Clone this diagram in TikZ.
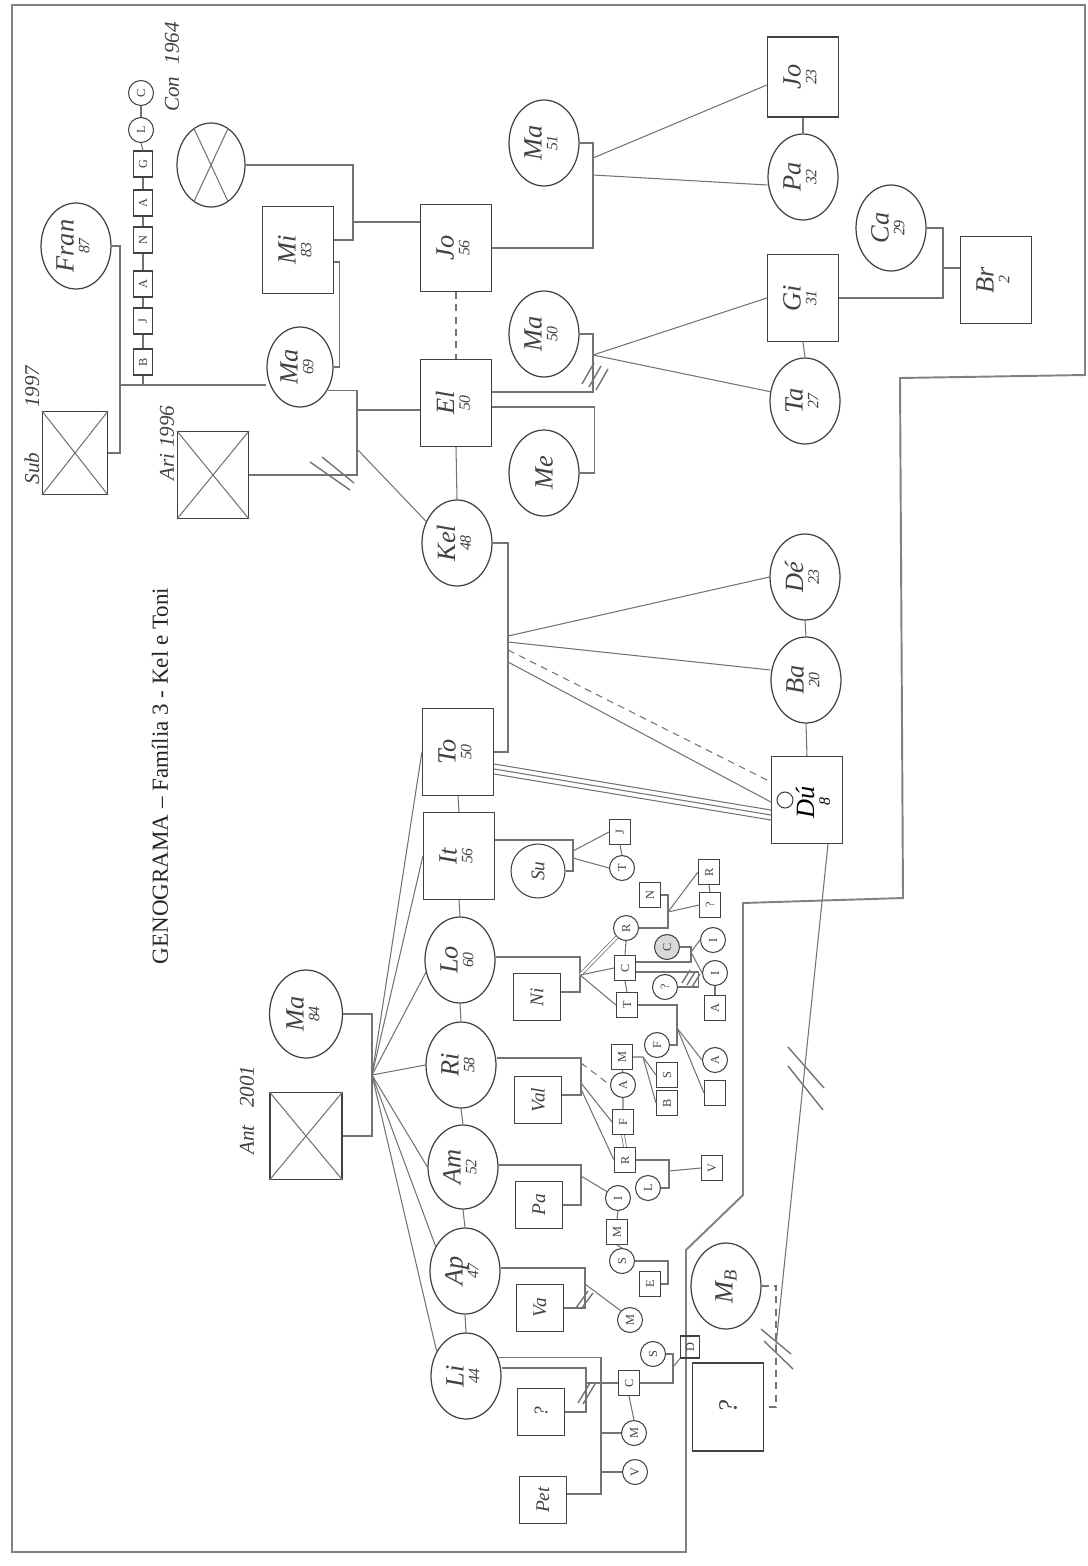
\documentclass[tikz,border=0pt]{standalone}
\usepackage{fontspec}
\setmainfont{Liberation Serif}
\usetikzlibrary{shapes.geometric,calc,positioning}
\definecolor{pencil}{RGB}{115,115,115}
\definecolor{ink}{RGB}{65,65,65}
\newcommand{\nmfont}{\itshape\fontsize{15}{15}\selectfont}
\newcommand{\agfont}{\itshape\fontsize{9}{9}\selectfont}
\newcommand{\mdfont}{\itshape\fontsize{11}{11}\selectfont}
\newcommand{\smfont}{\fontsize{7}{7}\selectfont}
\newcommand{\nm}[2]{\rotatebox{90}{\begin{tabular}{@{}c@{}}\nmfont #1\\[-3pt]\agfont #2\end{tabular}}}
\newcommand{\nmo}[1]{\rotatebox{90}{\nmfont #1}}
\newcommand{\nms}[1]{\rotatebox{90}{\mdfont #1}}
\newcommand{\sm}[1]{\rotatebox{90}{\smfont #1}}
\tikzset{
  ln/.style={draw=pencil,line width=0.6pt},
  dsh/.style={ln,dash pattern=on 4pt off 3pt},
  dbl/.style={draw=pencil,double,double distance=1.2pt,line width=0.45pt},
  frame/.style={draw=pencil!90,line width=1.1pt},
  slash/.style={draw=pencil,line width=0.8pt},
  fem/.style={ellipse,draw=ink,line width=0.7pt,minimum width=1.4cm,
    minimum height=1.72cm,inner sep=0pt,text=ink},
  mal/.style={rectangle,draw=ink,line width=0.7pt,minimum width=1.42cm,
    minimum height=1.74cm,inner sep=0pt,text=ink},
  mid/.style={mal,minimum width=0.94cm,minimum height=0.94cm},
  sfem/.style={circle,draw=ink,line width=0.6pt,minimum size=0.5cm,
    inner sep=0pt,text=ink},
  smal/.style={rectangle,draw=ink,line width=0.6pt,minimum width=0.42cm,
    minimum height=0.5cm,inner sep=0pt,text=ink},
  hand/.style={font=\itshape\fontsize{12}{12}\selectfont,text=ink,rotate=90},
  title/.style={font=\fontsize{13.1}{15}\selectfont,text=black!85,rotate=90},
}

\begin{document}
\begin{tikzpicture}[x=0.02cm,y=-0.02cm]
  \useasboundingbox (0,0) rectangle (1088,1566);
  \draw[frame] (12,5) -- (1085,5) -- (1085,375) -- (900,378) -- (903,898)
    -- (743,903) -- (743,1195) -- (686,1250) -- (686,1552) -- (12,1552) -- cycle;
  \node[title] (ttl) at (160,776) {GENOGRAMA – Família 3 - Kel e Toni};

  % grandparents, maternal side
  \node[fem] (fran) at (76,246) {\nm{Fran}{87}};
  \node[mal,minimum width=1.3cm,minimum height=1.66cm] (sub) at (75,453) {};
  \draw[ln] (sub.north west) -- (sub.south east) (sub.north east) -- (sub.south west);
  \node[hand] (sublbl) at (32,425) {Sub\hspace{0.9cm}1997};
  \foreach \n/\l/\y in {sb1/B/362,sb2/J/321,sb3/A/284,sb4/N/240,sb5/A/203,sb6/G/164}
    \node[smal,minimum width=0.38cm,minimum height=0.52cm] (\n) at (143,\y) {\sm{\l}};
  \node[sfem] (sb7) at (141,130) {\sm{L}};
  \node[sfem] (sb8) at (141,93) {\sm{C}};
  \node[hand] (conlbl) at (172,67) {Con\hspace{0.25cm}1964};
  \node[fem,minimum width=1.36cm,minimum height=1.68cm] (xcirc) at (211,165) {};
  \draw[ln] (xcirc.65) -- (xcirc.-115) (xcirc.115) -- (xcirc.-65);
  \node[mal] (mi) at (298,250) {\nm{Mi}{83}};
  \node[fem,minimum width=1.32cm,minimum height=1.6cm] (ma69) at (300,367) {\nm{Ma}{69}};
  \node[mal] (ari) at (213,475) {};
  \draw[ln] (ari.north west) -- (ari.south east) (ari.north east) -- (ari.south west);
  \node[hand] (arilbl) at (167,443) {Ari 1996};

  % Kel's generation
  \node[mal] (jo56) at (456,248) {\nm{Jo}{56}};
  \node[mal] (el) at (456,403) {\nm{El}{50}};
  \node[fem] (kel) at (457,543) {\nm{Kel}{48}};
  \node[fem] (ma51) at (544,143) {\nm{Ma}{51}};
  \node[fem] (ma50) at (544,334) {\nm{Ma}{50}};
  \node[fem] (me) at (544,473) {\nmo{Me}};
  \node[mal,minimum height=1.6cm] (jo23) at (803,77) {\nm{Jo}{23}};
  \node[fem] (pa32) at (803,177) {\nm{Pa}{32}};
  \node[mal] (gi31) at (803,298) {\nm{Gi}{31}};
  \node[fem] (ta27) at (805,401) {\nm{Ta}{27}};
  \node[fem] (ca29) at (891,228) {\nm{Ca}{29}};
  \node[mal] (br2) at (996,280) {\nm{Br}{2}};
  \node[fem] (de23) at (805,577) {\nm{Dé}{23}};
  \node[fem] (ba20) at (806,680) {\nm{Ba}{20}};
  \node[mal] (du8) at (807,800) {};
  \node (dulbl) at (816,802) {\nm{Dú}{8}};
  \node[sfem,minimum size=0.32cm] (dudot) at (785,800) {};

  % Toni's side
  \node[fem,minimum width=1.46cm,minimum height=1.76cm] (ma84) at (306,1014) {\nm{Ma}{84}};
  \node[mal,minimum width=1.44cm] (ant) at (306,1136) {};
  \draw[ln] (ant.north west) -- (ant.south east) (ant.north east) -- (ant.south west);
  \node[hand] (antlbl) at (247,1110) {Ant\hspace{0.35cm}2001};
  \node[mal] (to50) at (458,752) {\nm{To}{50}};
  \node[mal] (it56) at (459,856) {\nm{It}{56}};
  \node[fem] (lo60) at (460,960) {\nm{Lo}{60}};
  \node[fem] (ri58) at (461,1065) {\nm{Ri}{58}};
  \node[fem,minimum height=1.68cm] (am52) at (463,1167) {\nm{Am}{52}};
  \node[fem] (ap47) at (465,1271) {\nm{Ap}{47}};
  \node[fem] (li44) at (466,1376) {\nm{Li}{44}};

  \node[sfem,minimum size=1.08cm] (su) at (538,871) {\nms{Su}};
  \node[mid] (ni) at (537,997) {\nms{Ni}};
  \node[mid] (val) at (538,1100) {\nms{Val}};
  \node[mid] (pa) at (539,1205) {\nms{Pa}};
  \node[mid] (va) at (540,1308) {\nms{Va}};
  \node[mid] (q1) at (541,1412) {\nms{?}};
  \node[mid] (pet) at (543,1500) {\nms{Pet}};
  \node[fem] (mb) at (726,1286) {\nmo{M\textsubscript{B}}};
  \node[mal,minimum height=1.76cm] (q2) at (728,1407) {\nmo{?}};

  % grandchildren
  \node[smal] (sj) at (620,832) {\sm{J}};
  \node[sfem] (st) at (622,868) {\sm{T}};
  \node[sfem] (lr) at (626,928) {\sm{R}};
  \node[smal] (lc) at (625,968) {\sm{C}};
  \node[smal] (lt) at (627,1005) {\sm{T}};
  \node[smal] (nn) at (650,895) {\sm{N}};
  \node[smal] (r2) at (709,872) {\sm{R}};
  \node[smal] (q3) at (710,905) {\sm{?}};
  \node[sfem,fill=gray!30] (cc) at (667,947) {\sm{C}};
  \node[sfem] (i1) at (713,940) {\sm{I}};
  \node[sfem] (i2) at (715,973) {\sm{I}};
  \node[smal] (a1) at (715,1008) {\sm{A}};
  \node[sfem] (qc) at (665,987) {\sm{?}};
  \node[sfem] (lf) at (657,1045) {\sm{F}};
  \node[sfem] (ta2) at (715,1060) {\sm{A}};
  \node[smal] (e1) at (715,1093) {};
  \node[smal] (rm) at (622,1057) {\sm{M}};
  \node[sfem] (ra) at (623,1085) {\sm{A}};
  \node[smal] (rf) at (623,1122) {\sm{F}};
  \node[smal] (rr) at (625,1160) {\sm{R}};
  \node[smal] (rs) at (667,1075) {\sm{S}};
  \node[smal] (rb) at (667,1103) {\sm{B}};
  \node[sfem] (ai) at (618,1198) {\sm{I}};
  \node[sfem] (al) at (648,1188) {\sm{L}};
  \node[smal] (av) at (712,1168) {\sm{V}};
  \node[smal] (am2) at (617,1232) {\sm{M}};
  \node[sfem] (as) at (622,1261) {\sm{S}};
  \node[smal] (ae) at (650,1284) {\sm{E}};
  \node[sfem] (vm) at (630,1320) {\sm{M}};
  \node[sfem] (ls) at (653,1354) {\sm{S}};
  \node[smal] (lc2) at (629,1383) {\sm{C}};
  \node[smal,minimum width=0.38cm,minimum height=0.44cm] (ld) at (690,1347) {\sm{D}};
  \node[sfem] (lm) at (634,1433) {\sm{M}};
  \node[sfem] (lv) at (635,1472) {\sm{V}};

  % couples and children, top
  \coordinate (fs) at (120,385);
  \coordinate (sbj) at (143,385);
  \draw[ln] (fran.east) -| (fs) |- (sub.east);
  \draw[ln] (fs) -- (fs -| ma69.west);
  \draw[ln] (sbj) -- (sb1.south);
  \foreach \a/\b in {sb1/sb2,sb2/sb3,sb3/sb4,sb4/sb5,sb5/sb6,sb6/sb7,sb7/sb8}
    \draw[ln] (\a.north) -- (\b.south);
  \coordinate (xm) at (353,222);
  \draw[ln] (xcirc.east) -| (xm) |- ($(mi.east)+(0,-10)$);
  \draw[ln] (xm) -- (jo56.west |- xm);
  \draw[ln] ($(mi.east)+(0,12)$) -- ++(5,0) |- (ma69.east);
  \coordinate (ma) at (357,410);
  \coordinate (mk) at (357,449);
  \draw[ln] (ma69.-40) -| (ma) |- (ari.east);
  \draw[ln] (ma) -- (el.west |- ma);
  \draw[ln] (mk) -- (kel.145);
  \draw[slash] (310,462) -- (350,490) (322,457) -- (354,483);
  \draw[dsh] (jo56.south) -- (el.north);
  \coordinate (jm1) at (593,158);
  \coordinate (jm2) at (593,175);
  \draw[ln] (jo56.east) -| (jm2) |- (ma51.east);
  \draw[ln] (jm1) -- ($(jo23.west)+(0,8)$);
  \draw[ln] (jm2) -- ($(pa32.west)+(0,8)$);
  \draw[ln] (jo23.south) -- (pa32.north);
  \coordinate (cg) at (943,268);
  \draw[ln] (ca29.east) -| (cg) |- (gi31.east);
  \draw[ln] (cg) -- (br2.west |- cg);
  \draw[ln] (gi31.south) -- (ta27.north);
  \coordinate (em) at (593,355);
  \draw[ln] ($(el.east)+(0,-11)$) -| (em) |- (ma50.east);
  \draw[slash] (582,384) -- (594,363) (589,387) -- (601,366) (596,390) -- (608,369);
  \draw[ln] (em) -- (gi31.west);
  \draw[ln] (em) -- (ta27.165);
  \draw[ln] ($(el.east)+(0,4)$) -- ++(102,0) |- (me.east);
  \draw[ln] (el.south) -- (kel.north);

  % Kel and To
  \coordinate (kt) at (508,640);
  \draw[ln] (kel.east) -| (kt) |- (to50.east);
  \draw[ln] ($(kt)+(0,-4)$) -- (de23.west);
  \draw[ln] ($(kt)+(0,2)$) -- ($(ba20.west)+(0,-10)$);
  \draw[dsh] ($(kt)+(0,10)$) -- ($(du8.west)+(0,-18)$);
  \draw[ln] ($(kt)+(0,22)$) -- ($(du8.west)+(0,2)$);
  \foreach \d in {0,5,10}
    \draw[ln] ($(to50.east)+(0,12+\d)$) -- ($(du8.west)+(0,10+\d)$);
  \draw[ln] (de23.south) -- (ba20.north);
  \draw[ln] (ba20.south) -- (du8.north);
  \coordinate (mq) at (776,1345);
  \draw[dsh] (mb.east) -| (mq) |- (q2.east);
  \draw[slash] (761,1329) -- (791,1354) (764,1341) -- (793,1369);
  \draw[ln] ($(du8.south)+(21,0)$) -- (mq);
  \draw[slash] (788,1047) -- (824,1088) (788,1066) -- (823,1110);

  % Ant and Ma, their children
  \coordinate (am) at (372,1075);
  \draw[ln] (ma84.east) -| (am) |- (ant.east);
  \foreach \k/\a in {to50/west,it56/west,lo60/200,ri58/west,am52/west,ap47/140,li44/140}
    \draw[ln] (am) -- (\k.\a);
  \foreach \a/\b in {to50/it56,it56/lo60,lo60/ri58,ri58/am52,am52/ap47,ap47/li44}
    \draw[ln] (\a.south) -- (\b.north);

  % It and Su
  \coordinate (is) at (573,851);
  \draw[ln] ($(it56.east)+(0,-16)$) -| (is) |- (su.east);
  \draw[ln] (is) -- (sj.west);
  \draw[ln] ($(is)+(0,7)$) -- (st.west);
  \draw[ln] (sj.south) -- (st.north);

  % Lo and Ni
  \coordinate (lnn) at (580,975);
  \draw[ln] ($(lo60.east)+(0,-3)$) -| (lnn) |- ($(ni.east)+(0,-5)$);
  \draw[dbl] (lnn) -- (lr.225);
  \draw[ln] (lnn) -- (lc.west);
  \draw[ln] (lnn) -- (lt.west);
  \draw[ln] (lr.south) -- (lc.north) (lc.south) -- (lt.north);
  \coordinate (rn) at (668,912);
  \draw[ln] (lr.east) -| (rn) |- (nn.east);
  \draw[ln] (rn) -- (r2.west);
  \draw[ln] (rn) -- (q3.west);
  \draw[ln] (r2.south) -- (q3.north);
  \coordinate (cx) at (691,952);
  \draw[ln] ($(lc.east)+(0,-6)$) -| (cx) |- (cc.east);
  \draw[ln] (cx) -- (i1.west);
  \draw[ln] (cx) -- (i2.west);
  \draw[ln] (i2.south) -- (a1.north);
  \draw[ln] ($(lc.east)+(0,4)$) -| ($(qc.east)+(20,0)$) -- (qc.east);
  \draw[slash] (682,983) -- (690,970) (687,985) -- (695,972) (692,987) -- (700,974);
  \coordinate (tf) at (677,1028);
  \draw[ln] (lt.east) -| (tf) |- (lf.east);
  \draw[ln] (tf) -- (ta2.west);
  \draw[ln] (tf) -- (e1.west);

  % Ri and Val
  \coordinate (rv) at (581,1075);
  \draw[ln] ($(ri58.east)+(0,-7)$) -| (rv) |- ($(val.east)+(0,-5)$);
  \draw[dsh] ($(rv)+(0,-12)$) -- (ra.west);
  \draw[ln] ($(rv)+(0,8)$) -- (rf.west);
  \draw[ln] ($(rv)+(0,14)$) -- (rr.west);
  \draw[ln] (rm.south) -- (ra.north) (ra.south) -- (rf.north);
  \draw[dbl] (rf.south) -- (rr.north);
  \coordinate (mk2) at (643,1057);
  \draw[ln] (rm.east) -- (mk2) -- (rs.west) (mk2) -- (rb.west);
  \coordinate (rl) at (669,1171);
  \draw[ln] (rr.east) -| (rl) |- (al.east);
  \draw[ln] (rl) -- (av.west);

  % Am and Pa
  \coordinate (apj) at (581,1185);
  \draw[ln] ($(am52.east)+(0,-2)$) -| (apj) |- (pa.east);
  \draw[ln] ($(apj)+(0,-9)$) -- (ai.150);
  \draw[ln] (ai.south) -- (am2.north) (am2.south) -- (as.north);
  \coordinate (se) at (668,1272);
  \draw[ln] (as.east) -| (se) |- (ae.east);

  % Ap and Va
  \coordinate (avj) at (585,1290);
  \draw[ln] ($(ap47.east)+(0,-3)$) -| (avj) |- (va.east);
  \draw[ln] ($(avj)+(0,-6)$) -- (vm.135);
  \draw[slash] (576,1308) -- (588,1291) (581,1309) -- (593,1293);

  % Li, Pet and ?
  \coordinate (lp) at (601,1440);
  \draw[ln] (li44.30) -| (lp) |- ($(pet.east)+(0,-6)$);
  \draw[ln] (lp |- lm.west) -- (lm.west);
  \draw[ln] (lp |- lv.west) -- (lv.west);
  \coordinate (lq) at (586,1383);
  \draw[ln] ($(li44.east)+(0,-8)$) -| (lq) |- (q1.east);
  \draw[slash] (578,1403) -- (590,1383) (583,1404) -- (595,1384);
  \draw[ln] (lq) -- (lc2.west);
  \draw[ln] (lc2.south) -- (lm.north);
  \coordinate (cs) at (673,1367);
  \draw[ln] (lc2.east) -| (cs) |- (ls.east);
  \draw[ln] (cs) -- (ld.south west);
\end{tikzpicture}
\end{document}
